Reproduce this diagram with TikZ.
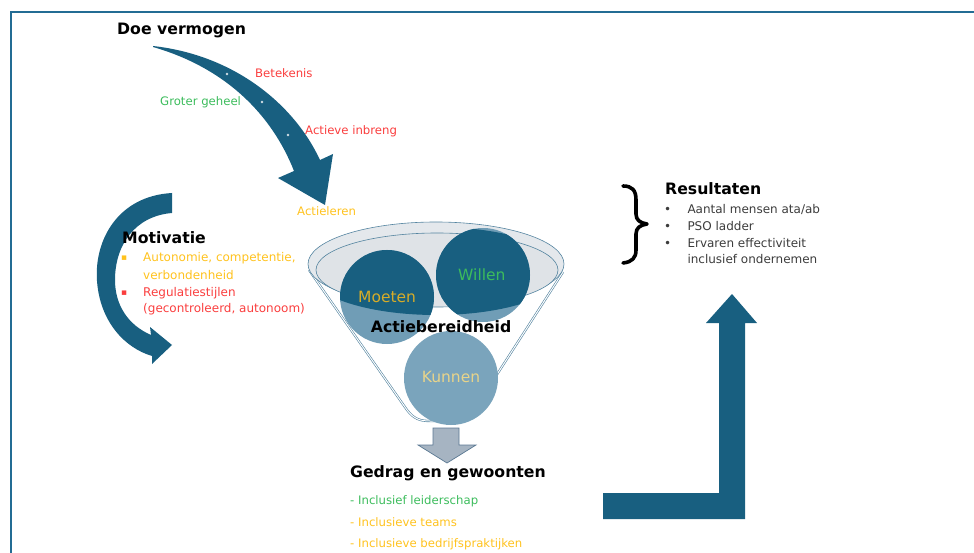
\documentclass[tikz,border=0pt]{standalone}
\usepackage{fontspec}
\setmainfont{DejaVu Sans}
\definecolor{arrowblue}{RGB}{24,95,128}
\definecolor{framecol}{RGB}{35,108,148}
\definecolor{lightcirc}{RGB}{112,157,182}
\definecolor{kunnencol}{RGB}{122,164,188}
\definecolor{rimfill}{RGB}{228,232,236}
\definecolor{rimline}{RGB}{84,132,160}
\definecolor{grayarrow}{RGB}{166,180,194}
\definecolor{grayline}{RGB}{90,120,146}
\definecolor{txtred}{RGB}{250,62,62}
\definecolor{txtgreen}{RGB}{60,188,92}
\definecolor{txtyellow}{RGB}{255,194,30}
\definecolor{moetencol}{RGB}{214,172,40}
\definecolor{kunnentxt}{RGB}{232,212,138}
\definecolor{restxt}{RGB}{60,60,60}
\begin{document}
\begin{tikzpicture}[x=1pt,y=-1pt,
  lbl/.style={anchor=base west, inner sep=0pt, font=\fontsize{11.7}{13}\selectfont},
  item/.style={anchor=base west, inner sep=0pt, font=\fontsize{12}{14}\selectfont},
  headtxt/.style={anchor=base west, inner sep=0pt, font=\fontsize{15.7}{18}\selectfont\bfseries},
  circtxt/.style={anchor=base west, inner sep=0pt, font=\fontsize{15.5}{18}\selectfont},
  shapefill/.style={fill=arrowblue}]
\useasboundingbox (0,0) rectangle (974,553);
% frame
\draw[framecol, line width=2pt] (11,553) -- (11,12) -- (974,12);

% top curved arrow
\fill[shapefill] (153,46) .. controls (234,55) and (294,104) .. (320,160)
  -- (333,154) -- (325,205) -- (278,178) -- (294,171)
  .. controls (272,115) and (226,68) .. (153,47) -- cycle;
\foreach \p in {(227,74),(262,102),(288,135)} \fill[white!80!arrowblue] \p circle[radius=1.4];

% left curved arrow
\fill[shapefill] (172,193) .. controls (118,196) and (94,240) .. (97,281)
  .. controls (100,322) and (125,348) .. (152,356) -- (152,364) -- (172,345) -- (150,327) -- (151,335)
  .. controls (128,325) and (115,305) .. (115,280)
  .. controls (115,245) and (135,216) .. (172,213) -- cycle;

% funnel
\draw[rimline, line width=0.6pt, double=white, double distance=1pt]
  (309,270) -- (407,410) .. controls (414,419) and (420,421) .. (430,421) -- (452,421)
  .. controls (462,421) and (470,415) .. (476,407) -- (563,272);
\draw[rimline, line width=0.6pt, fill=rimfill] (436,264) ellipse [x radius=128, y radius=42];
\draw[rimline, line width=0.6pt, fill=rimfill!95!gray] (437,270) ellipse [x radius=121, y radius=37];

% circles
\fill[lightcirc] (387,297) circle[radius=47];
\fill[lightcirc] (483,275) circle[radius=47];
\fill[kunnencol] (451,378) circle[radius=47];
\begin{scope}
  \clip (436,271) ellipse [x radius=128, y radius=44];
  \fill[arrowblue] (387,297) circle[radius=47];
  \fill[arrowblue] (483,275) circle[radius=47];
\end{scope}

\node[circtxt, text=moetencol] (moeten) at (358,302.7) {Moeten};
\node[circtxt, text=txtgreen] (willen) at (458,280) {Willen};
\node[circtxt, text=kunnentxt] (kunnen) at (421.7,382.7) {Kunnen};
\node[headtxt] (actie) at (370.7,332.3) {Actiebereidheid};

% gray down arrow
\draw[grayline, fill=grayarrow, line width=0.7pt] (433,428) -- (459,428) -- (459,445) -- (476,445)
  -- (447,463) -- (418,445) -- (433,445) -- cycle;

% L arrow
\fill[shapefill] (603,493) -- (719,493) -- (719,323) -- (706,323) -- (732,294) -- (757,323)
  -- (745,323) -- (745,519) -- (603,519) -- cycle;

% brace
\draw[black, line width=3.6pt, line cap=round, line join=round]
  (623,186) .. controls (632,186) and (636,190) .. (636,200) -- (636,214)
  .. controls (636,220) and (640,223) .. (647,224)
  .. controls (640,225) and (636,228) .. (636,234) -- (636,250)
  .. controls (636,258) and (632,262) .. (623,263);

% texts
\node[headtxt] (doe) at (117,35) {Doe vermogen};
\node[lbl, text=txtred] (betekenis) at (255,77.3) {Betekenis};
\node[lbl, text=txtgreen] (groter) at (160,106) {Groter geheel};
\node[lbl, text=txtred] (inbreng) at (305,135) {Actieve inbreng};
\node[lbl, text=txtyellow] (actieleren) at (297,216) {Actieleren};

\node[headtxt] (motivatie) at (122,243.5) {Motivatie};
\node[item, text=txtyellow, font=\fontsize{9}{10}\selectfont] (b1) at (121,260.5) {▪};
\node[item, text=txtyellow] (m1) at (143,261.7) {Autonomie, competentie,};
\node[item, text=txtyellow] (m2) at (143,279.3) {verbondenheid};
\node[item, text=txtred, font=\fontsize{9}{10}\selectfont] (b2) at (121,295.5) {▪};
\node[item, text=txtred] (m3) at (143,296.7) {Regulatiestijlen};
\node[item, text=txtred] (m4) at (143,312.7) {(gecontroleerd, autonoom)};

\node[headtxt] (gedrag) at (350,477.3) {Gedrag en gewoonten};
\node[lbl, text=txtgreen] (g1) at (350,504) {- Inclusief leiderschap};
\node[lbl, text=txtyellow] (g2) at (350,526) {- Inclusieve teams};
\node[lbl, text=txtyellow] (g3) at (350,547.3) {- Inclusieve bedrijfspraktijken};

\node[headtxt] (result) at (665,195) {Resultaten};
\node[item, text=restxt] (rb1) at (664,213.3) {•};
\node[item, text=restxt] (r1) at (687.3,213.3) {Aantal mensen ata/ab};
\node[item, text=restxt] (rb2) at (664,231) {•};
\node[item, text=restxt] (r2) at (687.3,231) {PSO ladder};
\node[item, text=restxt] (rb3) at (664,247.3) {•};
\node[item, text=restxt] (r3) at (687.3,247.3) {Ervaren effectiviteit};
\node[item, text=restxt] (r4) at (687.3,264) {inclusief ondernemen};
\end{tikzpicture}
\end{document}
